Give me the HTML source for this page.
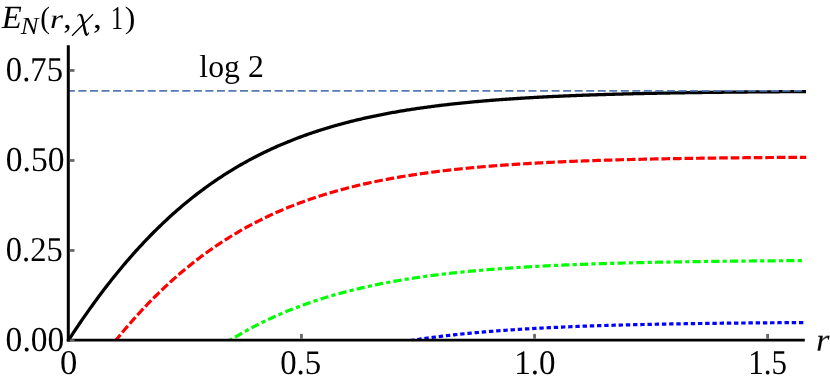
<!DOCTYPE html>
<html><head><meta charset="utf-8"><style>
html,body{margin:0;padding:0;background:#fff;}
body{width:830px;height:383px;overflow:hidden;position:relative;font-family:"Liberation Serif",serif;}
</style></head><body>
<svg width="830" height="383" viewBox="0 0 830 383" style="position:absolute;left:0;top:0">
<defs><clipPath id="cp"><rect x="0" y="0" width="830" height="341"/></clipPath></defs>
<g fill="none" stroke-linecap="butt">
<path d="M68.35,340.45 L69.58,338.56 L70.81,336.67 L72.04,334.80 L73.27,332.94 L74.50,331.08 L75.73,329.24 L76.96,327.40 L78.19,325.58 L79.41,323.77 L80.64,321.96 L81.87,320.17 L83.10,318.39 L84.33,316.61 L85.56,314.85 L86.79,313.09 L88.02,311.35 L89.25,309.62 L90.48,307.89 L91.71,306.18 L92.94,304.47 L94.17,302.78 L95.40,301.10 L96.63,299.42 L97.86,297.76 L99.09,296.10 L100.31,294.46 L101.54,292.82 L102.77,291.20 L104.00,289.58 L105.23,287.98 L106.46,286.38 L107.69,284.79 L108.92,283.22 L110.15,281.65 L111.38,280.09 L112.61,278.55 L113.84,277.01 L115.07,275.48 L116.30,273.96 L117.53,272.45 L118.76,270.95 L119.99,269.47 L121.21,267.99 L122.44,266.51 L123.67,265.05 L124.90,263.60 L126.13,262.16 L127.36,260.73 L128.59,259.30 L129.82,257.89 L131.05,256.49 L132.28,255.09 L133.51,253.70 L134.74,252.33 L135.97,250.96 L137.20,249.60 L138.43,248.25 L139.66,246.91 L140.89,245.58 L142.12,244.26 L143.34,242.95 L144.57,241.64 L145.80,240.35 L147.03,239.06 L148.26,237.79 L149.49,236.52 L150.72,235.26 L151.95,234.01 L153.18,232.77 L154.41,231.54 L155.64,230.31 L156.87,229.10 L158.10,227.89 L159.33,226.70 L160.56,225.51 L161.79,224.33 L163.02,223.15 L164.24,221.99 L165.47,220.84 L166.70,219.69 L167.93,218.55 L169.16,217.42 L170.39,216.30 L171.62,215.19 L172.85,214.09 L174.08,212.99 L175.31,211.90 L176.54,210.82 L177.77,209.75 L179.00,208.69 L180.23,207.63 L181.46,206.58 L182.69,205.54 L183.92,204.51 L185.14,203.49 L186.37,202.47 L187.60,201.46 L188.83,200.46 L190.06,199.47 L191.29,198.49 L192.52,197.51 L193.75,196.54 L194.98,195.58 L196.21,194.62 L197.44,193.68 L198.67,192.74 L199.90,191.81 L201.13,190.88 L202.36,189.97 L203.59,189.06 L204.82,188.15 L206.04,187.26 L207.27,186.37 L208.50,185.49 L209.73,184.62 L210.96,183.75 L212.19,182.89 L213.42,182.04 L214.65,181.19 L215.88,180.35 L217.11,179.52 L218.34,178.69 L219.57,177.88 L220.80,177.07 L222.03,176.26 L223.26,175.46 L224.49,174.67 L225.72,173.89 L226.94,173.11 L228.17,172.34 L229.40,171.57 L230.63,170.81 L231.86,170.06 L233.09,169.31 L234.32,168.57 L235.55,167.84 L236.78,167.11 L238.01,166.39 L239.24,165.67 L240.47,164.97 L241.70,164.26 L242.93,163.57 L244.16,162.87 L245.39,162.19 L246.62,161.51 L247.84,160.84 L249.07,160.17 L250.30,159.51 L251.53,158.85 L252.76,158.20 L253.99,157.56 L255.22,156.92 L256.45,156.29 L257.68,155.66 L258.91,155.04 L260.14,154.42 L261.37,153.81 L262.60,153.20 L263.83,152.60 L265.06,152.01 L266.29,151.41 L267.52,150.83 L268.74,150.25 L269.97,149.68 L271.20,149.11 L272.43,148.54 L273.66,147.98 L274.89,147.43 L276.12,146.88 L277.35,146.34 L278.58,145.80 L279.81,145.26 L281.04,144.73 L282.27,144.21 L283.50,143.69 L284.73,143.17 L285.96,142.66 L287.19,142.15 L288.42,141.65 L289.64,141.16 L290.87,140.66 L292.10,140.18 L293.33,139.69 L294.56,139.21 L295.79,138.74 L297.02,138.27 L298.25,137.80 L299.48,137.34 L300.71,136.88 L301.94,136.43 L303.17,135.98 L304.40,135.54 L305.63,135.10 L306.86,134.66 L308.09,134.23 L309.32,133.80 L310.55,133.38 L311.77,132.95 L313.00,132.54 L314.23,132.13 L315.46,131.72 L316.69,131.31 L317.92,130.91 L319.15,130.51 L320.38,130.12 L321.61,129.73 L322.84,129.34 L324.07,128.96 L325.30,128.58 L326.53,128.21 L327.76,127.83 L328.99,127.47 L330.22,127.10 L331.45,126.74 L332.67,126.38 L333.90,126.03 L335.13,125.68 L336.36,125.33 L337.59,124.98 L338.82,124.64 L340.05,124.30 L341.28,123.97 L342.51,123.64 L343.74,123.31 L344.97,122.98 L346.20,122.66 L347.43,122.34 L348.66,122.03 L349.89,121.71 L351.12,121.40 L352.35,121.10 L353.57,120.79 L354.80,120.49 L356.03,120.20 L357.26,119.90 L358.49,119.61 L359.72,119.32 L360.95,119.03 L362.18,118.75 L363.41,118.47 L364.64,118.19 L365.87,117.91 L367.10,117.64 L368.33,117.37 L369.56,117.10 L370.79,116.84 L372.02,116.57 L373.25,116.31 L374.47,116.06 L375.70,115.80 L376.93,115.55 L378.16,115.30 L379.39,115.05 L380.62,114.81 L381.85,114.56 L383.08,114.32 L384.31,114.09 L385.54,113.85 L386.77,113.62 L388.00,113.39 L389.23,113.16 L390.46,112.93 L391.69,112.71 L392.92,112.49 L394.15,112.27 L395.37,112.05 L396.60,111.83 L397.83,111.62 L399.06,111.41 L400.29,111.20 L401.52,110.99 L402.75,110.79 L403.98,110.58 L405.21,110.38 L406.44,110.18 L407.67,109.99 L408.90,109.79 L410.13,109.60 L411.36,109.41 L412.59,109.22 L413.82,109.03 L415.05,108.85 L416.27,108.66 L417.50,108.48 L418.73,108.30 L419.96,108.12 L421.19,107.95 L422.42,107.77 L423.65,107.60 L424.88,107.43 L426.11,107.26 L427.34,107.09 L428.57,106.93 L429.80,106.76 L431.03,106.60 L432.26,106.44 L433.49,106.28 L434.72,106.12 L435.95,105.96 L437.17,105.81 L438.40,105.66 L439.63,105.50 L440.86,105.35 L442.09,105.21 L443.32,105.06 L444.55,104.91 L445.78,104.77 L447.01,104.63 L448.24,104.49 L449.47,104.35 L450.70,104.21 L451.93,104.07 L453.16,103.93 L454.39,103.80 L455.62,103.67 L456.85,103.54 L458.08,103.41 L459.30,103.28 L460.53,103.15 L461.76,103.02 L462.99,102.90 L464.22,102.78 L465.45,102.65 L466.68,102.53 L467.91,102.41 L469.14,102.29 L470.37,102.18 L471.60,102.06 L472.83,101.94 L474.06,101.83 L475.29,101.72 L476.52,101.61 L477.75,101.49 L478.98,101.39 L480.20,101.28 L481.43,101.17 L482.66,101.06 L483.89,100.96 L485.12,100.85 L486.35,100.75 L487.58,100.65 L488.81,100.55 L490.04,100.45 L491.27,100.35 L492.50,100.25 L493.73,100.16 L494.96,100.06 L496.19,99.97 L497.42,99.87 L498.65,99.78 L499.88,99.69 L501.10,99.60 L502.33,99.51 L503.56,99.42 L504.79,99.33 L506.02,99.24 L507.25,99.16 L508.48,99.07 L509.71,98.99 L510.94,98.90 L512.17,98.82 L513.40,98.74 L514.63,98.66 L515.86,98.58 L517.09,98.50 L518.32,98.42 L519.55,98.34 L520.78,98.26 L522.00,98.19 L523.23,98.11 L524.46,98.04 L525.69,97.96 L526.92,97.89 L528.15,97.82 L529.38,97.74 L530.61,97.67 L531.84,97.60 L533.07,97.53 L534.30,97.46 L535.53,97.40 L536.76,97.33 L537.99,97.26 L539.22,97.20 L540.45,97.13 L541.68,97.07 L542.90,97.00 L544.13,96.94 L545.36,96.88 L546.59,96.81 L547.82,96.75 L549.05,96.69 L550.28,96.63 L551.51,96.57 L552.74,96.51 L553.97,96.46 L555.20,96.40 L556.43,96.34 L557.66,96.28 L558.89,96.23 L560.12,96.17 L561.35,96.12 L562.58,96.06 L563.80,96.01 L565.03,95.96 L566.26,95.91 L567.49,95.85 L568.72,95.80 L569.95,95.75 L571.18,95.70 L572.41,95.65 L573.64,95.60 L574.87,95.55 L576.10,95.50 L577.33,95.46 L578.56,95.41 L579.79,95.36 L581.02,95.32 L582.25,95.27 L583.48,95.22 L584.70,95.18 L585.93,95.14 L587.16,95.09 L588.39,95.05 L589.62,95.00 L590.85,94.96 L592.08,94.92 L593.31,94.88 L594.54,94.84 L595.77,94.80 L597.00,94.76 L598.23,94.71 L599.46,94.68 L600.69,94.64 L601.92,94.60 L603.15,94.56 L604.38,94.52 L605.61,94.48 L606.83,94.45 L608.06,94.41 L609.29,94.37 L610.52,94.34 L611.75,94.30 L612.98,94.27 L614.21,94.23 L615.44,94.20 L616.67,94.16 L617.90,94.13 L619.13,94.09 L620.36,94.06 L621.59,94.03 L622.82,94.00 L624.05,93.96 L625.28,93.93 L626.51,93.90 L627.73,93.87 L628.96,93.84 L630.19,93.81 L631.42,93.78 L632.65,93.75 L633.88,93.72 L635.11,93.69 L636.34,93.66 L637.57,93.63 L638.80,93.60 L640.03,93.57 L641.26,93.55 L642.49,93.52 L643.72,93.49 L644.95,93.47 L646.18,93.44 L647.41,93.41 L648.63,93.39 L649.86,93.36 L651.09,93.33 L652.32,93.31 L653.55,93.28 L654.78,93.26 L656.01,93.24 L657.24,93.21 L658.47,93.19 L659.70,93.16 L660.93,93.14 L662.16,93.12 L663.39,93.09 L664.62,93.07 L665.85,93.05 L667.08,93.03 L668.31,93.00 L669.53,92.98 L670.76,92.96 L671.99,92.94 L673.22,92.92 L674.45,92.90 L675.68,92.88 L676.91,92.86 L678.14,92.84 L679.37,92.82 L680.60,92.80 L681.83,92.78 L683.06,92.76 L684.29,92.74 L685.52,92.72 L686.75,92.70 L687.98,92.68 L689.21,92.66 L690.43,92.64 L691.66,92.63 L692.89,92.61 L694.12,92.59 L695.35,92.57 L696.58,92.56 L697.81,92.54 L699.04,92.52 L700.27,92.50 L701.50,92.49 L702.73,92.47 L703.96,92.45 L705.19,92.44 L706.42,92.42 L707.65,92.41 L708.88,92.39 L710.11,92.38 L711.33,92.36 L712.56,92.35 L713.79,92.33 L715.02,92.32 L716.25,92.30 L717.48,92.29 L718.71,92.27 L719.94,92.26 L721.17,92.24 L722.40,92.23 L723.63,92.22 L724.86,92.20 L726.09,92.19 L727.32,92.18 L728.55,92.16 L729.78,92.15 L731.01,92.14 L732.24,92.12 L733.46,92.11 L734.69,92.10 L735.92,92.09 L737.15,92.07 L738.38,92.06 L739.61,92.05 L740.84,92.04 L742.07,92.03 L743.30,92.02 L744.53,92.00 L745.76,91.99 L746.99,91.98 L748.22,91.97 L749.45,91.96 L750.68,91.95 L751.91,91.94 L753.14,91.93 L754.36,91.92 L755.59,91.91 L756.82,91.89 L758.05,91.88 L759.28,91.87 L760.51,91.86 L761.74,91.85 L762.97,91.84 L764.20,91.84 L765.43,91.83 L766.66,91.82 L767.89,91.81 L769.12,91.80 L770.35,91.79 L771.58,91.78 L772.81,91.77 L774.04,91.76 L775.26,91.75 L776.49,91.74 L777.72,91.73 L778.95,91.73 L780.18,91.72 L781.41,91.71 L782.64,91.70 L783.87,91.69 L785.10,91.68 L786.33,91.68 L787.56,91.67 L788.79,91.66 L790.02,91.65 L791.25,91.65 L792.48,91.64 L793.71,91.63 L794.94,91.62 L796.16,91.62 L797.39,91.61 L798.62,91.60 L799.85,91.59 L801.08,91.59 L802.31,91.58 L803.54,91.57 L804.77,91.57 L806.00,91.56" stroke="#000" stroke-width="3.3"/>
<line x1="67.6" y1="90.92" x2="805" y2="90.92" stroke="#547ab5" stroke-width="1.9" stroke-dasharray="8 3.54" stroke-dashoffset="0.7"/>
<path d="M68.35,406.17 L69.58,404.27 L70.81,402.39 L72.04,400.51 L73.27,398.65 L74.50,396.80 L75.73,394.95 L76.96,393.12 L78.19,391.29 L79.42,389.48 L80.65,387.68 L81.88,385.88 L83.11,384.10 L84.34,382.32 L85.57,380.56 L86.80,378.81 L88.03,377.06 L89.26,375.33 L90.49,373.60 L91.72,371.89 L92.94,370.18 L94.17,368.49 L95.40,366.80 L96.63,365.13 L97.86,363.46 L99.09,361.81 L100.32,360.16 L101.55,358.53 L102.78,356.90 L104.01,355.29 L105.24,353.68 L106.47,352.08 L107.70,350.50 L108.93,348.92 L110.16,347.35 L111.39,345.80 L112.62,344.25 L113.85,342.71 L115.08,341.18 L116.31,339.66 L117.54,338.16 L118.77,336.66 L120.00,335.17 L121.23,333.69 L122.46,332.21 L123.69,330.75 L124.92,329.30 L126.15,327.86 L127.38,326.43 L128.61,325.00 L129.84,323.59 L131.07,322.18 L132.30,320.79 L133.53,319.40 L134.76,318.02 L135.99,316.66 L137.22,315.30 L138.45,313.95 L139.68,312.61 L140.91,311.28 L142.13,309.96 L143.36,308.64 L144.59,307.34 L145.82,306.04 L147.05,304.76 L148.28,303.48 L149.51,302.21 L150.74,300.96 L151.97,299.71 L153.20,298.46 L154.43,297.23 L155.66,296.01 L156.89,294.79 L158.12,293.59 L159.35,292.39 L160.58,291.20 L161.81,290.02 L163.04,288.85 L164.27,287.68 L165.50,286.53 L166.73,285.38 L167.96,284.25 L169.19,283.12 L170.42,281.99 L171.65,280.88 L172.88,279.78 L174.11,278.68 L175.34,277.59 L176.57,276.51 L177.80,275.44 L179.03,274.38 L180.26,273.32 L181.49,272.27 L182.72,271.23 L183.95,270.20 L185.18,269.18 L186.41,268.16 L187.64,267.16 L188.87,266.16 L190.10,265.16 L191.32,264.18 L192.55,263.20 L193.78,262.23 L195.01,261.27 L196.24,260.32 L197.47,259.37 L198.70,258.43 L199.93,257.50 L201.16,256.57 L202.39,255.66 L203.62,254.75 L204.85,253.84 L206.08,252.95 L207.31,252.06 L208.54,251.18 L209.77,250.31 L211.00,249.44 L212.23,248.58 L213.46,247.73 L214.69,246.88 L215.92,246.04 L217.15,245.21 L218.38,244.39 L219.61,243.57 L220.84,242.76 L222.07,241.95 L223.30,241.15 L224.53,240.36 L225.76,239.58 L226.99,238.80 L228.22,238.03 L229.45,237.26 L230.68,236.50 L231.91,235.75 L233.14,235.00 L234.37,234.26 L235.60,233.53 L236.83,232.80 L238.06,232.08 L239.29,231.37 L240.52,230.66 L241.74,229.95 L242.97,229.26 L244.20,228.57 L245.43,227.88 L246.66,227.20 L247.89,226.53 L249.12,225.86 L250.35,225.20 L251.58,224.54 L252.81,223.89 L254.04,223.25 L255.27,222.61 L256.50,221.98 L257.73,221.35 L258.96,220.73 L260.19,220.11 L261.42,219.50 L262.65,218.89 L263.88,218.29 L265.11,217.70 L266.34,217.11 L267.57,216.52 L268.80,215.94 L270.03,215.37 L271.26,214.80 L272.49,214.23 L273.72,213.68 L274.95,213.12 L276.18,212.57 L277.41,212.03 L278.64,211.49 L279.87,210.95 L281.10,210.43 L282.33,209.90 L283.56,209.38 L284.79,208.86 L286.02,208.35 L287.25,207.85 L288.48,207.35 L289.71,206.85 L290.93,206.36 L292.16,205.87 L293.39,205.39 L294.62,204.91 L295.85,204.43 L297.08,203.96 L298.31,203.50 L299.54,203.04 L300.77,202.58 L302.00,202.13 L303.23,201.68 L304.46,201.23 L305.69,200.79 L306.92,200.36 L308.15,199.92 L309.38,199.49 L310.61,199.07 L311.84,198.65 L313.07,198.23 L314.30,197.82 L315.53,197.41 L316.76,197.01 L317.99,196.61 L319.22,196.21 L320.45,195.82 L321.68,195.43 L322.91,195.04 L324.14,194.66 L325.37,194.28 L326.60,193.90 L327.83,193.53 L329.06,193.16 L330.29,192.80 L331.52,192.44 L332.75,192.08 L333.98,191.72 L335.21,191.37 L336.44,191.03 L337.67,190.68 L338.89,190.34 L340.12,190.00 L341.35,189.67 L342.58,189.34 L343.81,189.01 L345.04,188.68 L346.27,188.36 L347.50,188.04 L348.73,187.73 L349.96,187.41 L351.19,187.10 L352.42,186.80 L353.65,186.49 L354.88,186.19 L356.11,185.89 L357.34,185.60 L358.57,185.31 L359.80,185.02 L361.03,184.73 L362.26,184.45 L363.49,184.17 L364.72,183.89 L365.95,183.61 L367.18,183.34 L368.41,183.07 L369.64,182.80 L370.87,182.54 L372.10,182.27 L373.33,182.01 L374.56,181.76 L375.79,181.50 L377.02,181.25 L378.25,181.00 L379.48,180.75 L380.71,180.51 L381.94,180.26 L383.17,180.02 L384.40,179.79 L385.63,179.55 L386.86,179.32 L388.09,179.09 L389.31,178.86 L390.54,178.63 L391.77,178.41 L393.00,178.19 L394.23,177.97 L395.46,177.75 L396.69,177.53 L397.92,177.32 L399.15,177.11 L400.38,176.90 L401.61,176.69 L402.84,176.49 L404.07,176.29 L405.30,176.09 L406.53,175.89 L407.76,175.69 L408.99,175.50 L410.22,175.30 L411.45,175.11 L412.68,174.92 L413.91,174.74 L415.14,174.55 L416.37,174.37 L417.60,174.18 L418.83,174.01 L420.06,173.83 L421.29,173.65 L422.52,173.48 L423.75,173.30 L424.98,173.13 L426.21,172.96 L427.44,172.80 L428.67,172.63 L429.90,172.47 L431.13,172.30 L432.36,172.14 L433.59,171.98 L434.82,171.82 L436.05,171.67 L437.27,171.51 L438.50,171.36 L439.73,171.21 L440.96,171.06 L442.19,170.91 L443.42,170.76 L444.65,170.62 L445.88,170.47 L447.11,170.33 L448.34,170.19 L449.57,170.05 L450.80,169.91 L452.03,169.78 L453.26,169.64 L454.49,169.51 L455.72,169.37 L456.95,169.24 L458.18,169.11 L459.41,168.98 L460.64,168.86 L461.87,168.73 L463.10,168.61 L464.33,168.48 L465.56,168.36 L466.79,168.24 L468.02,168.12 L469.25,168.00 L470.48,167.88 L471.71,167.77 L472.94,167.65 L474.17,167.54 L475.40,167.42 L476.63,167.31 L477.86,167.20 L479.09,167.09 L480.32,166.98 L481.55,166.88 L482.78,166.77 L484.01,166.67 L485.24,166.56 L486.47,166.46 L487.69,166.36 L488.92,166.26 L490.15,166.16 L491.38,166.06 L492.61,165.96 L493.84,165.87 L495.07,165.77 L496.30,165.67 L497.53,165.58 L498.76,165.49 L499.99,165.40 L501.22,165.31 L502.45,165.22 L503.68,165.13 L504.91,165.04 L506.14,164.95 L507.37,164.87 L508.60,164.78 L509.83,164.70 L511.06,164.61 L512.29,164.53 L513.52,164.45 L514.75,164.37 L515.98,164.29 L517.21,164.21 L518.44,164.13 L519.67,164.05 L520.90,163.97 L522.13,163.90 L523.36,163.82 L524.59,163.75 L525.82,163.67 L527.05,163.60 L528.28,163.53 L529.51,163.45 L530.74,163.38 L531.97,163.31 L533.20,163.24 L534.43,163.18 L535.66,163.11 L536.88,163.04 L538.11,162.97 L539.34,162.91 L540.57,162.84 L541.80,162.78 L543.03,162.71 L544.26,162.65 L545.49,162.59 L546.72,162.53 L547.95,162.46 L549.18,162.40 L550.41,162.34 L551.64,162.28 L552.87,162.23 L554.10,162.17 L555.33,162.11 L556.56,162.05 L557.79,162.00 L559.02,161.94 L560.25,161.88 L561.48,161.83 L562.71,161.78 L563.94,161.72 L565.17,161.67 L566.40,161.62 L567.63,161.57 L568.86,161.51 L570.09,161.46 L571.32,161.41 L572.55,161.36 L573.78,161.31 L575.01,161.26 L576.24,161.22 L577.47,161.17 L578.70,161.12 L579.93,161.07 L581.16,161.03 L582.39,160.98 L583.62,160.94 L584.85,160.89 L586.07,160.85 L587.30,160.80 L588.53,160.76 L589.76,160.72 L590.99,160.67 L592.22,160.63 L593.45,160.59 L594.68,160.55 L595.91,160.51 L597.14,160.47 L598.37,160.43 L599.60,160.39 L600.83,160.35 L602.06,160.31 L603.29,160.27 L604.52,160.23 L605.75,160.20 L606.98,160.16 L608.21,160.12 L609.44,160.09 L610.67,160.05 L611.90,160.01 L613.13,159.98 L614.36,159.94 L615.59,159.91 L616.82,159.88 L618.05,159.84 L619.28,159.81 L620.51,159.77 L621.74,159.74 L622.97,159.71 L624.20,159.68 L625.43,159.65 L626.66,159.61 L627.89,159.58 L629.12,159.55 L630.35,159.52 L631.58,159.49 L632.81,159.46 L634.04,159.43 L635.26,159.40 L636.49,159.37 L637.72,159.35 L638.95,159.32 L640.18,159.29 L641.41,159.26 L642.64,159.23 L643.87,159.21 L645.10,159.18 L646.33,159.15 L647.56,159.13 L648.79,159.10 L650.02,159.07 L651.25,159.05 L652.48,159.02 L653.71,159.00 L654.94,158.97 L656.17,158.95 L657.40,158.93 L658.63,158.90 L659.86,158.88 L661.09,158.85 L662.32,158.83 L663.55,158.81 L664.78,158.79 L666.01,158.76 L667.24,158.74 L668.47,158.72 L669.70,158.70 L670.93,158.68 L672.16,158.65 L673.39,158.63 L674.62,158.61 L675.85,158.59 L677.08,158.57 L678.31,158.55 L679.54,158.53 L680.77,158.51 L682.00,158.49 L683.23,158.47 L684.45,158.45 L685.68,158.43 L686.91,158.41 L688.14,158.40 L689.37,158.38 L690.60,158.36 L691.83,158.34 L693.06,158.32 L694.29,158.31 L695.52,158.29 L696.75,158.27 L697.98,158.25 L699.21,158.24 L700.44,158.22 L701.67,158.20 L702.90,158.19 L704.13,158.17 L705.36,158.15 L706.59,158.14 L707.82,158.12 L709.05,158.11 L710.28,158.09 L711.51,158.08 L712.74,158.06 L713.97,158.05 L715.20,158.03 L716.43,158.02 L717.66,158.00 L718.89,157.99 L720.12,157.97 L721.35,157.96 L722.58,157.95 L723.81,157.93 L725.04,157.92 L726.27,157.91 L727.50,157.89 L728.73,157.88 L729.96,157.87 L731.19,157.85 L732.42,157.84 L733.64,157.83 L734.87,157.81 L736.10,157.80 L737.33,157.79 L738.56,157.78 L739.79,157.77 L741.02,157.75 L742.25,157.74 L743.48,157.73 L744.71,157.72 L745.94,157.71 L747.17,157.70 L748.40,157.69 L749.63,157.67 L750.86,157.66 L752.09,157.65 L753.32,157.64 L754.55,157.63 L755.78,157.62 L757.01,157.61 L758.24,157.60 L759.47,157.59 L760.70,157.58 L761.93,157.57 L763.16,157.56 L764.39,157.55 L765.62,157.54 L766.85,157.53 L768.08,157.52 L769.31,157.51 L770.54,157.50 L771.77,157.49 L773.00,157.49 L774.23,157.48 L775.46,157.47 L776.69,157.46 L777.92,157.45 L779.15,157.44 L780.38,157.43 L781.61,157.43 L782.83,157.42 L784.06,157.41 L785.29,157.40 L786.52,157.39 L787.75,157.38 L788.98,157.38 L790.21,157.37 L791.44,157.36 L792.67,157.35 L793.90,157.35 L795.13,157.34 L796.36,157.33 L797.59,157.32 L798.82,157.32 L800.05,157.31 L801.28,157.30 L802.51,157.30 L803.74,157.29 L804.97,157.28 L806.20,157.28" stroke="#ff0000" stroke-width="3.2" stroke-dasharray="8.63 2.9065" stroke-dashoffset="0.89" clip-path="url(#cp)"/>
<path d="M68.35,509.49 L69.58,507.60 L70.81,505.71 L72.03,503.84 L73.26,501.98 L74.49,500.13 L75.72,498.29 L76.95,496.46 L78.17,494.64 L79.40,492.82 L80.63,491.02 L81.86,489.23 L83.08,487.45 L84.31,485.68 L85.54,483.92 L86.77,482.16 L88.00,480.42 L89.22,478.69 L90.45,476.97 L91.68,475.26 L92.91,473.55 L94.14,471.86 L95.36,470.18 L96.59,468.51 L97.82,466.84 L99.05,465.19 L100.28,463.55 L101.50,461.91 L102.73,460.29 L103.96,458.68 L105.19,457.07 L106.42,455.48 L107.64,453.89 L108.87,452.32 L110.10,450.75 L111.33,449.20 L112.55,447.65 L113.78,446.12 L115.01,444.59 L116.24,443.07 L117.47,441.57 L118.69,440.07 L119.92,438.58 L121.15,437.10 L122.38,435.63 L123.61,434.17 L124.83,432.72 L126.06,431.28 L127.29,429.85 L128.52,428.43 L129.75,427.01 L130.97,425.61 L132.20,424.22 L133.43,422.83 L134.66,421.45 L135.89,420.09 L137.11,418.73 L138.34,417.38 L139.57,416.04 L140.80,414.71 L142.02,413.39 L143.25,412.08 L144.48,410.78 L145.71,409.49 L146.94,408.20 L148.16,406.93 L149.39,405.66 L150.62,404.40 L151.85,403.15 L153.08,401.91 L154.30,400.68 L155.53,399.46 L156.76,398.24 L157.99,397.04 L159.22,395.84 L160.44,394.65 L161.67,393.47 L162.90,392.30 L164.13,391.14 L165.36,389.99 L166.58,388.84 L167.81,387.70 L169.04,386.57 L170.27,385.45 L171.50,384.34 L172.72,383.24 L173.95,382.14 L175.18,381.05 L176.41,379.97 L177.63,378.90 L178.86,377.84 L180.09,376.78 L181.32,375.74 L182.55,374.70 L183.77,373.67 L185.00,372.64 L186.23,371.63 L187.46,370.62 L188.69,369.62 L189.91,368.63 L191.14,367.64 L192.37,366.67 L193.60,365.70 L194.83,364.74 L196.05,363.78 L197.28,362.84 L198.51,361.90 L199.74,360.97 L200.96,360.04 L202.19,359.12 L203.42,358.21 L204.65,357.31 L205.88,356.42 L207.10,355.53 L208.33,354.65 L209.56,353.78 L210.79,352.91 L212.02,352.05 L213.24,351.20 L214.47,350.35 L215.70,349.51 L216.93,348.68 L218.16,347.85 L219.38,347.04 L220.61,346.22 L221.84,345.42 L223.07,344.62 L224.30,343.83 L225.52,343.05 L226.75,342.27 L227.98,341.49 L229.21,340.73 L230.44,339.97 L231.66,339.22 L232.89,338.47 L234.12,337.73 L235.35,337.00 L236.57,336.27 L237.80,335.55 L239.03,334.83 L240.26,334.12 L241.49,333.42 L242.71,332.72 L243.94,332.03 L245.17,331.35 L246.40,330.67 L247.63,329.99 L248.85,329.33 L250.08,328.66 L251.31,328.01 L252.54,327.36 L253.77,326.71 L254.99,326.07 L256.22,325.44 L257.45,324.81 L258.68,324.19 L259.90,323.57 L261.13,322.96 L262.36,322.35 L263.59,321.75 L264.82,321.16 L266.04,320.57 L267.27,319.98 L268.50,319.40 L269.73,318.83 L270.96,318.26 L272.18,317.69 L273.41,317.13 L274.64,316.58 L275.87,316.03 L277.10,315.49 L278.32,314.95 L279.55,314.41 L280.78,313.88 L282.01,313.36 L283.24,312.84 L284.46,312.32 L285.69,311.81 L286.92,311.30 L288.15,310.80 L289.38,310.30 L290.60,309.81 L291.83,309.32 L293.06,308.84 L294.29,308.36 L295.51,307.88 L296.74,307.41 L297.97,306.95 L299.20,306.48 L300.43,306.03 L301.65,305.57 L302.88,305.12 L304.11,304.68 L305.34,304.24 L306.57,303.80 L307.79,303.37 L309.02,302.94 L310.25,302.51 L311.48,302.09 L312.71,301.68 L313.93,301.26 L315.16,300.85 L316.39,300.45 L317.62,300.05 L318.85,299.65 L320.07,299.26 L321.30,298.86 L322.53,298.48 L323.76,298.09 L324.98,297.72 L326.21,297.34 L327.44,296.97 L328.67,296.60 L329.90,296.23 L331.12,295.87 L332.35,295.51 L333.58,295.16 L334.81,294.81 L336.04,294.46 L337.26,294.11 L338.49,293.77 L339.72,293.43 L340.95,293.10 L342.18,292.77 L343.40,292.44 L344.63,292.11 L345.86,291.79 L347.09,291.47 L348.31,291.15 L349.54,290.84 L350.77,290.53 L352.00,290.22 L353.23,289.92 L354.45,289.62 L355.68,289.32 L356.91,289.02 L358.14,288.73 L359.37,288.44 L360.59,288.15 L361.82,287.87 L363.05,287.59 L364.28,287.31 L365.51,287.03 L366.73,286.76 L367.96,286.49 L369.19,286.22 L370.42,285.95 L371.65,285.69 L372.87,285.43 L374.10,285.17 L375.33,284.92 L376.56,284.66 L377.78,284.41 L379.01,284.17 L380.24,283.92 L381.47,283.68 L382.70,283.44 L383.92,283.20 L385.15,282.96 L386.38,282.73 L387.61,282.50 L388.84,282.27 L390.06,282.04 L391.29,281.82 L392.52,281.59 L393.75,281.37 L394.98,281.16 L396.20,280.94 L397.43,280.73 L398.66,280.51 L399.89,280.31 L401.12,280.10 L402.34,279.89 L403.57,279.69 L404.80,279.49 L406.03,279.29 L407.25,279.09 L408.48,278.90 L409.71,278.70 L410.94,278.51 L412.17,278.32 L413.39,278.13 L414.62,277.95 L415.85,277.76 L417.08,277.58 L418.31,277.40 L419.53,277.22 L420.76,277.05 L421.99,276.87 L423.22,276.70 L424.45,276.53 L425.67,276.36 L426.90,276.19 L428.13,276.02 L429.36,275.86 L430.59,275.69 L431.81,275.53 L433.04,275.37 L434.27,275.21 L435.50,275.06 L436.73,274.90 L437.95,274.75 L439.18,274.60 L440.41,274.45 L441.64,274.30 L442.86,274.15 L444.09,274.01 L445.32,273.86 L446.55,273.72 L447.78,273.58 L449.00,273.44 L450.23,273.30 L451.46,273.16 L452.69,273.02 L453.92,272.89 L455.14,272.76 L456.37,272.62 L457.60,272.49 L458.83,272.36 L460.06,272.24 L461.28,272.11 L462.51,271.99 L463.74,271.86 L464.97,271.74 L466.20,271.62 L467.42,271.50 L468.65,271.38 L469.88,271.26 L471.11,271.14 L472.33,271.03 L473.56,270.91 L474.79,270.80 L476.02,270.69 L477.25,270.58 L478.47,270.47 L479.70,270.36 L480.93,270.25 L482.16,270.14 L483.39,270.04 L484.61,269.94 L485.84,269.83 L487.07,269.73 L488.30,269.63 L489.53,269.53 L490.75,269.43 L491.98,269.33 L493.21,269.23 L494.44,269.14 L495.67,269.04 L496.89,268.95 L498.12,268.86 L499.35,268.76 L500.58,268.67 L501.80,268.58 L503.03,268.49 L504.26,268.41 L505.49,268.32 L506.72,268.23 L507.94,268.15 L509.17,268.06 L510.40,267.98 L511.63,267.89 L512.86,267.81 L514.08,267.73 L515.31,267.65 L516.54,267.57 L517.77,267.49 L519.00,267.41 L520.22,267.33 L521.45,267.26 L522.68,267.18 L523.91,267.11 L525.13,267.03 L526.36,266.96 L527.59,266.89 L528.82,266.81 L530.05,266.74 L531.27,266.67 L532.50,266.60 L533.73,266.53 L534.96,266.47 L536.19,266.40 L537.41,266.33 L538.64,266.27 L539.87,266.20 L541.10,266.13 L542.33,266.07 L543.55,266.01 L544.78,265.94 L546.01,265.88 L547.24,265.82 L548.47,265.76 L549.69,265.70 L550.92,265.64 L552.15,265.58 L553.38,265.52 L554.60,265.46 L555.83,265.41 L557.06,265.35 L558.29,265.29 L559.52,265.24 L560.74,265.18 L561.97,265.13 L563.20,265.07 L564.43,265.02 L565.66,264.97 L566.88,264.92 L568.11,264.86 L569.34,264.81 L570.57,264.76 L571.80,264.71 L573.02,264.66 L574.25,264.61 L575.48,264.57 L576.71,264.52 L577.94,264.47 L579.16,264.42 L580.39,264.38 L581.62,264.33 L582.85,264.29 L584.08,264.24 L585.30,264.20 L586.53,264.15 L587.76,264.11 L588.99,264.06 L590.21,264.02 L591.44,263.98 L592.67,263.94 L593.90,263.90 L595.13,263.85 L596.35,263.81 L597.58,263.77 L598.81,263.73 L600.04,263.69 L601.27,263.66 L602.49,263.62 L603.72,263.58 L604.95,263.54 L606.18,263.50 L607.41,263.47 L608.63,263.43 L609.86,263.39 L611.09,263.36 L612.32,263.32 L613.55,263.29 L614.77,263.25 L616.00,263.22 L617.23,263.18 L618.46,263.15 L619.68,263.12 L620.91,263.08 L622.14,263.05 L623.37,263.02 L624.60,262.99 L625.82,262.96 L627.05,262.92 L628.28,262.89 L629.51,262.86 L630.74,262.83 L631.96,262.80 L633.19,262.77 L634.42,262.74 L635.65,262.71 L636.88,262.68 L638.10,262.66 L639.33,262.63 L640.56,262.60 L641.79,262.57 L643.02,262.55 L644.24,262.52 L645.47,262.49 L646.70,262.46 L647.93,262.44 L649.15,262.41 L650.38,262.39 L651.61,262.36 L652.84,262.34 L654.07,262.31 L655.29,262.29 L656.52,262.26 L657.75,262.24 L658.98,262.21 L660.21,262.19 L661.43,262.17 L662.66,262.14 L663.89,262.12 L665.12,262.10 L666.35,262.08 L667.57,262.05 L668.80,262.03 L670.03,262.01 L671.26,261.99 L672.49,261.97 L673.71,261.95 L674.94,261.93 L676.17,261.91 L677.40,261.89 L678.62,261.86 L679.85,261.84 L681.08,261.83 L682.31,261.81 L683.54,261.79 L684.76,261.77 L685.99,261.75 L687.22,261.73 L688.45,261.71 L689.68,261.69 L690.90,261.67 L692.13,261.66 L693.36,261.64 L694.59,261.62 L695.82,261.60 L697.04,261.59 L698.27,261.57 L699.50,261.55 L700.73,261.54 L701.96,261.52 L703.18,261.50 L704.41,261.49 L705.64,261.47 L706.87,261.45 L708.09,261.44 L709.32,261.42 L710.55,261.41 L711.78,261.39 L713.01,261.38 L714.23,261.36 L715.46,261.35 L716.69,261.33 L717.92,261.32 L719.15,261.30 L720.37,261.29 L721.60,261.28 L722.83,261.26 L724.06,261.25 L725.29,261.24 L726.51,261.22 L727.74,261.21 L728.97,261.20 L730.20,261.18 L731.43,261.17 L732.65,261.16 L733.88,261.14 L735.11,261.13 L736.34,261.12 L737.56,261.11 L738.79,261.10 L740.02,261.08 L741.25,261.07 L742.48,261.06 L743.70,261.05 L744.93,261.04 L746.16,261.03 L747.39,261.01 L748.62,261.00 L749.84,260.99 L751.07,260.98 L752.30,260.97 L753.53,260.96 L754.76,260.95 L755.98,260.94 L757.21,260.93 L758.44,260.92 L759.67,260.91 L760.90,260.90 L762.12,260.89 L763.35,260.88 L764.58,260.87 L765.81,260.86 L767.03,260.85 L768.26,260.84 L769.49,260.83 L770.72,260.82 L771.95,260.81 L773.17,260.80 L774.40,260.80 L775.63,260.79 L776.86,260.78 L778.09,260.77 L779.31,260.76 L780.54,260.75 L781.77,260.74 L783.00,260.74 L784.23,260.73 L785.45,260.72 L786.68,260.71 L787.91,260.70 L789.14,260.70 L790.37,260.69 L791.59,260.68 L792.82,260.67 L794.05,260.67 L795.28,260.66 L796.50,260.65 L797.73,260.64 L798.96,260.64 L800.19,260.63 L801.42,260.62 L802.64,260.61 L803.87,260.61 L805.10,260.60" stroke="#00ff00" stroke-width="3.2" stroke-dasharray="8.2 3.17 4.2 3.184" stroke-dashoffset="1.84" clip-path="url(#cp)"/>
<path d="M68.35,571.44 L69.58,569.55 L70.81,567.67 L72.04,565.79 L73.27,563.93 L74.50,562.08 L75.73,560.23 L76.96,558.40 L78.19,556.57 L79.41,554.76 L80.64,552.96 L81.87,551.16 L83.10,549.38 L84.33,547.61 L85.56,545.84 L86.79,544.09 L88.02,542.34 L89.25,540.61 L90.48,538.89 L91.71,537.17 L92.94,535.47 L94.17,533.77 L95.40,532.09 L96.63,530.42 L97.86,528.75 L99.09,527.10 L100.31,525.45 L101.54,523.82 L102.77,522.19 L104.00,520.58 L105.23,518.97 L106.46,517.37 L107.69,515.79 L108.92,514.21 L110.15,512.64 L111.38,511.09 L112.61,509.54 L113.84,508.00 L115.07,506.47 L116.30,504.96 L117.53,503.45 L118.76,501.95 L119.99,500.46 L121.21,498.98 L122.44,497.51 L123.67,496.05 L124.90,494.60 L126.13,493.15 L127.36,491.72 L128.59,490.30 L129.82,488.88 L131.05,487.48 L132.28,486.08 L133.51,484.70 L134.74,483.32 L135.97,481.95 L137.20,480.59 L138.43,479.25 L139.66,477.91 L140.89,476.57 L142.12,475.25 L143.34,473.94 L144.57,472.64 L145.80,471.34 L147.03,470.06 L148.26,468.78 L149.49,467.51 L150.72,466.25 L151.95,465.00 L153.18,463.76 L154.41,462.53 L155.64,461.31 L156.87,460.09 L158.10,458.89 L159.33,457.69 L160.56,456.50 L161.79,455.32 L163.02,454.15 L164.24,452.98 L165.47,451.83 L166.70,450.68 L167.93,449.55 L169.16,448.42 L170.39,447.30 L171.62,446.18 L172.85,445.08 L174.08,443.98 L175.31,442.89 L176.54,441.81 L177.77,440.74 L179.00,439.68 L180.23,438.62 L181.46,437.58 L182.69,436.54 L183.92,435.51 L185.14,434.48 L186.37,433.47 L187.60,432.46 L188.83,431.46 L190.06,430.47 L191.29,429.48 L192.52,428.50 L193.75,427.53 L194.98,426.57 L196.21,425.62 L197.44,424.67 L198.67,423.73 L199.90,422.80 L201.13,421.88 L202.36,420.96 L203.59,420.05 L204.82,419.15 L206.04,418.25 L207.27,417.36 L208.50,416.48 L209.73,415.61 L210.96,414.74 L212.19,413.88 L213.42,413.03 L214.65,412.18 L215.88,411.35 L217.11,410.51 L218.34,409.69 L219.57,408.87 L220.80,408.06 L222.03,407.25 L223.26,406.46 L224.49,405.66 L225.72,404.88 L226.94,404.10 L228.17,403.33 L229.40,402.56 L230.63,401.80 L231.86,401.05 L233.09,400.31 L234.32,399.57 L235.55,398.83 L236.78,398.10 L238.01,397.38 L239.24,396.67 L240.47,395.96 L241.70,395.26 L242.93,394.56 L244.16,393.87 L245.39,393.18 L246.62,392.50 L247.84,391.83 L249.07,391.16 L250.30,390.50 L251.53,389.85 L252.76,389.20 L253.99,388.55 L255.22,387.91 L256.45,387.28 L257.68,386.65 L258.91,386.03 L260.14,385.41 L261.37,384.80 L262.60,384.19 L263.83,383.59 L265.06,383.00 L266.29,382.41 L267.52,381.82 L268.74,381.24 L269.97,380.67 L271.20,380.10 L272.43,379.54 L273.66,378.98 L274.89,378.42 L276.12,377.87 L277.35,377.33 L278.58,376.79 L279.81,376.26 L281.04,375.73 L282.27,375.20 L283.50,374.68 L284.73,374.17 L285.96,373.65 L287.19,373.15 L288.42,372.65 L289.64,372.15 L290.87,371.66 L292.10,371.17 L293.33,370.69 L294.56,370.21 L295.79,369.73 L297.02,369.26 L298.25,368.80 L299.48,368.34 L300.71,367.88 L301.94,367.42 L303.17,366.98 L304.40,366.53 L305.63,366.09 L306.86,365.65 L308.09,365.22 L309.32,364.79 L310.55,364.37 L311.77,363.95 L313.00,363.53 L314.23,363.12 L315.46,362.71 L316.69,362.31 L317.92,361.90 L319.15,361.51 L320.38,361.11 L321.61,360.72 L322.84,360.34 L324.07,359.95 L325.30,359.58 L326.53,359.20 L327.76,358.83 L328.99,358.46 L330.22,358.09 L331.45,357.73 L332.67,357.38 L333.90,357.02 L335.13,356.67 L336.36,356.32 L337.59,355.98 L338.82,355.64 L340.05,355.30 L341.28,354.96 L342.51,354.63 L343.74,354.30 L344.97,353.98 L346.20,353.66 L347.43,353.34 L348.66,353.02 L349.89,352.71 L351.12,352.40 L352.35,352.09 L353.57,351.79 L354.80,351.49 L356.03,351.19 L357.26,350.89 L358.49,350.60 L359.72,350.31 L360.95,350.02 L362.18,349.74 L363.41,349.46 L364.64,349.18 L365.87,348.91 L367.10,348.63 L368.33,348.36 L369.56,348.09 L370.79,347.83 L372.02,347.57 L373.25,347.31 L374.47,347.05 L375.70,346.80 L376.93,346.54 L378.16,346.29 L379.39,346.05 L380.62,345.80 L381.85,345.56 L383.08,345.32 L384.31,345.08 L385.54,344.84 L386.77,344.61 L388.00,344.38 L389.23,344.15 L390.46,343.92 L391.69,343.70 L392.92,343.48 L394.15,343.26 L395.37,343.04 L396.60,342.83 L397.83,342.61 L399.06,342.40 L400.29,342.19 L401.52,341.99 L402.75,341.78 L403.98,341.58 L405.21,341.38 L406.44,341.18 L407.67,340.98 L408.90,340.79 L410.13,340.59 L411.36,340.40 L412.59,340.21 L413.82,340.03 L415.05,339.84 L416.27,339.66 L417.50,339.47 L418.73,339.29 L419.96,339.12 L421.19,338.94 L422.42,338.77 L423.65,338.59 L424.88,338.42 L426.11,338.25 L427.34,338.08 L428.57,337.92 L429.80,337.75 L431.03,337.59 L432.26,337.43 L433.49,337.27 L434.72,337.11 L435.95,336.96 L437.17,336.80 L438.40,336.65 L439.63,336.50 L440.86,336.35 L442.09,336.20 L443.32,336.05 L444.55,335.91 L445.78,335.76 L447.01,335.62 L448.24,335.48 L449.47,335.34 L450.70,335.20 L451.93,335.06 L453.16,334.93 L454.39,334.79 L455.62,334.66 L456.85,334.53 L458.08,334.40 L459.30,334.27 L460.53,334.14 L461.76,334.02 L462.99,333.89 L464.22,333.77 L465.45,333.65 L466.68,333.53 L467.91,333.41 L469.14,333.29 L470.37,333.17 L471.60,333.05 L472.83,332.94 L474.06,332.82 L475.29,332.71 L476.52,332.60 L477.75,332.49 L478.98,332.38 L480.20,332.27 L481.43,332.16 L482.66,332.06 L483.89,331.95 L485.12,331.85 L486.35,331.75 L487.58,331.64 L488.81,331.54 L490.04,331.44 L491.27,331.34 L492.50,331.25 L493.73,331.15 L494.96,331.05 L496.19,330.96 L497.42,330.87 L498.65,330.77 L499.88,330.68 L501.10,330.59 L502.33,330.50 L503.56,330.41 L504.79,330.32 L506.02,330.24 L507.25,330.15 L508.48,330.06 L509.71,329.98 L510.94,329.90 L512.17,329.81 L513.40,329.73 L514.63,329.65 L515.86,329.57 L517.09,329.49 L518.32,329.41 L519.55,329.33 L520.78,329.26 L522.00,329.18 L523.23,329.10 L524.46,329.03 L525.69,328.96 L526.92,328.88 L528.15,328.81 L529.38,328.74 L530.61,328.67 L531.84,328.60 L533.07,328.53 L534.30,328.46 L535.53,328.39 L536.76,328.32 L537.99,328.26 L539.22,328.19 L540.45,328.13 L541.68,328.06 L542.90,328.00 L544.13,327.93 L545.36,327.87 L546.59,327.81 L547.82,327.75 L549.05,327.69 L550.28,327.63 L551.51,327.57 L552.74,327.51 L553.97,327.45 L555.20,327.39 L556.43,327.33 L557.66,327.28 L558.89,327.22 L560.12,327.17 L561.35,327.11 L562.58,327.06 L563.80,327.00 L565.03,326.95 L566.26,326.90 L567.49,326.85 L568.72,326.80 L569.95,326.74 L571.18,326.69 L572.41,326.64 L573.64,326.59 L574.87,326.55 L576.10,326.50 L577.33,326.45 L578.56,326.40 L579.79,326.36 L581.02,326.31 L582.25,326.26 L583.48,326.22 L584.70,326.17 L585.93,326.13 L587.16,326.08 L588.39,326.04 L589.62,326.00 L590.85,325.96 L592.08,325.91 L593.31,325.87 L594.54,325.83 L595.77,325.79 L597.00,325.75 L598.23,325.71 L599.46,325.67 L600.69,325.63 L601.92,325.59 L603.15,325.55 L604.38,325.51 L605.61,325.48 L606.83,325.44 L608.06,325.40 L609.29,325.37 L610.52,325.33 L611.75,325.29 L612.98,325.26 L614.21,325.22 L615.44,325.19 L616.67,325.16 L617.90,325.12 L619.13,325.09 L620.36,325.05 L621.59,325.02 L622.82,324.99 L624.05,324.96 L625.28,324.93 L626.51,324.89 L627.73,324.86 L628.96,324.83 L630.19,324.80 L631.42,324.77 L632.65,324.74 L633.88,324.71 L635.11,324.68 L636.34,324.65 L637.57,324.62 L638.80,324.60 L640.03,324.57 L641.26,324.54 L642.49,324.51 L643.72,324.49 L644.95,324.46 L646.18,324.43 L647.41,324.41 L648.63,324.38 L649.86,324.35 L651.09,324.33 L652.32,324.30 L653.55,324.28 L654.78,324.25 L656.01,324.23 L657.24,324.20 L658.47,324.18 L659.70,324.16 L660.93,324.13 L662.16,324.11 L663.39,324.09 L664.62,324.06 L665.85,324.04 L667.08,324.02 L668.31,324.00 L669.53,323.98 L670.76,323.95 L671.99,323.93 L673.22,323.91 L674.45,323.89 L675.68,323.87 L676.91,323.85 L678.14,323.83 L679.37,323.81 L680.60,323.79 L681.83,323.77 L683.06,323.75 L684.29,323.73 L685.52,323.71 L686.75,323.69 L687.98,323.67 L689.21,323.66 L690.43,323.64 L691.66,323.62 L692.89,323.60 L694.12,323.58 L695.35,323.57 L696.58,323.55 L697.81,323.53 L699.04,323.51 L700.27,323.50 L701.50,323.48 L702.73,323.46 L703.96,323.45 L705.19,323.43 L706.42,323.42 L707.65,323.40 L708.88,323.39 L710.11,323.37 L711.33,323.35 L712.56,323.34 L713.79,323.32 L715.02,323.31 L716.25,323.29 L717.48,323.28 L718.71,323.27 L719.94,323.25 L721.17,323.24 L722.40,323.22 L723.63,323.21 L724.86,323.20 L726.09,323.18 L727.32,323.17 L728.55,323.16 L729.78,323.14 L731.01,323.13 L732.24,323.12 L733.46,323.11 L734.69,323.09 L735.92,323.08 L737.15,323.07 L738.38,323.06 L739.61,323.04 L740.84,323.03 L742.07,323.02 L743.30,323.01 L744.53,323.00 L745.76,322.99 L746.99,322.97 L748.22,322.96 L749.45,322.95 L750.68,322.94 L751.91,322.93 L753.14,322.92 L754.36,322.91 L755.59,322.90 L756.82,322.89 L758.05,322.88 L759.28,322.87 L760.51,322.86 L761.74,322.85 L762.97,322.84 L764.20,322.83 L765.43,322.82 L766.66,322.81 L767.89,322.80 L769.12,322.79 L770.35,322.78 L771.58,322.77 L772.81,322.76 L774.04,322.75 L775.26,322.75 L776.49,322.74 L777.72,322.73 L778.95,322.72 L780.18,322.71 L781.41,322.70 L782.64,322.69 L783.87,322.69 L785.10,322.68 L786.33,322.67 L787.56,322.66 L788.79,322.65 L790.02,322.65 L791.25,322.64 L792.48,322.63 L793.71,322.62 L794.94,322.62 L796.16,322.61 L797.39,322.60 L798.62,322.59 L799.85,322.59 L801.08,322.58 L802.31,322.57 L803.54,322.57 L804.77,322.56 L806.00,322.55" stroke="#0000ff" stroke-width="3.2" stroke-dasharray="4.39 2.8238" stroke-dashoffset="-2.09" clip-path="url(#cp)"/>
<line x1="68.3" y1="45.2" x2="68.3" y2="341.5" stroke="#000" stroke-width="3"/>
<line x1="66.8" y1="340.15" x2="804.8" y2="340.15" stroke="#000" stroke-width="2.7"/>
<g stroke="#666" stroke-width="2.75"><line x1="69.8" y1="70.45" x2="74.5" y2="70.45"/><line x1="69.8" y1="160.45" x2="74.5" y2="160.45"/><line x1="69.8" y1="250.45" x2="74.5" y2="250.45"/><line x1="69.8" y1="340.2" x2="74.5" y2="340.2" stroke-width="1.9"/><line x1="301.45" y1="338.79999999999995" x2="301.45" y2="333.9"/><line x1="534.55" y1="338.79999999999995" x2="534.55" y2="333.9"/><line x1="767.6" y1="338.79999999999995" x2="767.6" y2="333.9"/></g>
</g>
<g role="img" aria-label="χ"><title>χ</title>
<path d="M93.0,14.3 L72.1,35.7" stroke="#000" stroke-width="1.25" fill="none"/>
<path d="M77.24,16.26 C77.29,15.95 77.71,15.25 78.02,14.86 C78.34,14.46 78.73,14.11 79.12,13.92 C79.51,13.72 79.94,13.63 80.37,13.68 C80.80,13.73 81.31,13.90 81.70,14.23 C82.10,14.55 82.42,14.97 82.72,15.64 C83.02,16.30 83.22,17.07 83.51,18.22 C83.79,19.37 84.13,21.09 84.44,22.53 C84.76,23.97 85.10,25.51 85.38,26.84 C85.67,28.17 85.93,29.50 86.17,30.52 C86.40,31.53 86.59,32.42 86.79,32.94 C87.00,33.47 87.21,33.61 87.42,33.65 C87.63,33.69 87.86,33.41 88.05,33.18 C88.23,32.94 88.33,32.34 88.52,32.24 C88.70,32.14 89.12,32.24 89.14,32.55 C89.17,32.87 88.91,33.65 88.67,34.12 C88.44,34.59 88.07,35.07 87.73,35.37 C87.39,35.67 87.00,35.89 86.64,35.92 C86.27,35.95 85.88,35.87 85.54,35.53 C85.20,35.19 84.89,34.61 84.60,33.88 C84.31,33.15 84.08,32.23 83.82,31.14 C83.56,30.06 83.30,28.66 83.04,27.38 C82.77,26.11 82.51,24.74 82.25,23.47 C81.99,22.20 81.73,20.88 81.47,19.79 C81.21,18.69 80.95,17.61 80.69,16.89 C80.42,16.17 80.19,15.74 79.90,15.48 C79.62,15.22 79.25,15.25 78.96,15.32 C78.68,15.40 78.39,15.72 78.18,15.95 C77.97,16.19 77.87,16.68 77.71,16.73 C77.55,16.79 77.19,16.58 77.24,16.26Z" fill="#000"/>
</g>
<g font-family="Liberation Serif, serif" fill="#000" opacity="0.999">
<text transform="matrix(0.32768 0 0.0008 0.34853 5.75 81.13)" font-size="100" font-style="normal">0.75</text>
<text transform="matrix(0.33661 0 0.0008 0.34853 5.72 171.13)" font-size="100" font-style="normal">0.50</text>
<text transform="matrix(0.32649 0 0.0008 0.34853 5.76 261.13)" font-size="100" font-style="normal">0.25</text>
<text transform="matrix(0.33631 0 0.0008 0.34853 5.57 351.13)" font-size="100" font-style="normal">0.00</text>
<text transform="matrix(0.34767 0 0.0008 0.34741 59.88 373.90)" font-size="100" font-style="normal">0</text>
<text transform="matrix(0.32797 0 0.0008 0.34485 280.20 373.73)" font-size="100" font-style="normal">0.5</text>
<text transform="matrix(0.33097 0 0.0008 0.34485 514.24 373.73)" font-size="100" font-style="normal">1.0</text>
<text transform="matrix(0.31062 0 0.0008 0.34741 748.31 373.73)" font-size="100" font-style="normal">1.5</text>
<text transform="matrix(0.34648 0 0.0008 0.30526 816.06 350.85)" font-size="100" font-style="italic">r</text>
<text transform="matrix(0.31800 0 0.0008 0.31868 199.31 76.70)" font-size="100" font-style="normal">log 2</text>
<text transform="matrix(0.32869 0 0.0008 0.32366 1.79 28.45)" font-size="100" font-style="italic">E</text>
<text transform="matrix(0.26759 0 0.0008 0.24580 20.72 34.05)" font-size="100" font-style="italic">N</text>
<text transform="matrix(0.29245 0 0.0008 0.30989 40.13 27.99)" font-size="100" font-style="normal">(</text>
<text transform="matrix(0.33521 0 0.0008 0.26947 49.91 28.45)" font-size="100" font-style="italic">r</text>
<text transform="matrix(0.33548 0 0.0008 0.31923 63.28 28.40)" font-size="100" font-style="normal">,</text>
<text transform="matrix(0.35484 0 0.0008 0.31923 93.01 28.40)" font-size="100" font-style="normal">,</text>
<text transform="matrix(0.24225 0 0.0008 0.33485 110.99 28.55)" font-size="100" font-style="normal">1</text>
<text transform="matrix(0.31923 0 0.0008 0.30989 124.79 27.99)" font-size="100" font-style="normal">)</text>
</g>
</svg>
</body></html>
